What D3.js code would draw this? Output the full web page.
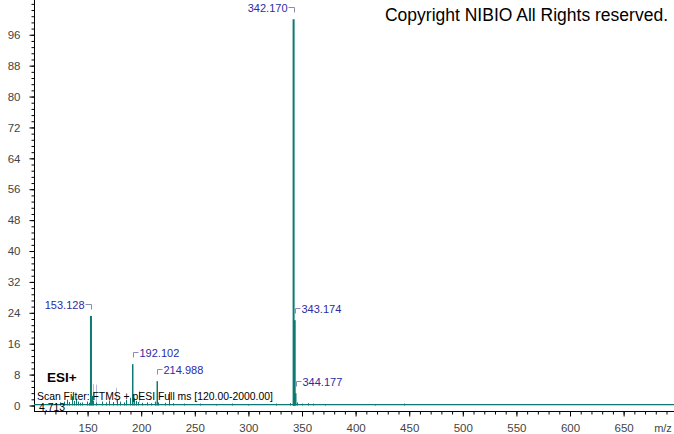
<!DOCTYPE html>
<html>
<head>
<meta charset="utf-8">
<script src="https://cdn.jsdelivr.net/npm/d3@7"></script>
<style>
  html, body { margin: 0; padding: 0; background: #fff; }
  svg { display: block; }
</style>
</head>
<body>
<svg id="chart" width="674" height="434"></svg>
<script>
// ---------- data ----------
const labeledMz = [153.128, 192.102, 214.988, 342.170, 343.174, 344.177];
const labeledIntensity = [23.2, 10.7, 6.3, 100, 22.1, 3.2];
const leftLabeled = [153.128, 342.170];

const minorMz = [124, 128, 131, 133, 135.5, 137, 139, 141, 143, 145, 149, 151, 154.1, 155.1,
  158, 163, 167, 170, 174, 177, 180, 184, 186, 190, 193.1, 195, 197, 201, 205, 209, 213,
  216, 222, 225.5, 230, 240, 255, 270, 285, 300, 326, 339, 341.2, 341.6, 342.6, 345.2, 350,
  356, 360, 371, 418, 445];
const minorIntensity = [0.8, 1.0, 1.5, 0.9, 2.4, 1.2, 1.8, 1.0, 0.7, 0.8, 1.0, 0.7, 2.5, 1.2,
  0.8, 1.0, 0.8, 1.3, 0.9, 1.5, 1.0, 0.8, 1.5, 2.0, 1.8, 1.2, 0.9, 0.7, 0.8, 0.6, 1.0,
  0.8, 0.7, 3.5, 0.6, 0.5, 0.5, 0.4, 0.5, 0.4, 0.5, 0.6, 1.5, 3.0, 4.0, 0.8, 0.5,
  0.6, 0.5, 0.4, 0.4, 0.5];

// faint markers of unlabeled peaks
const ghostMz = [155.4, 157.8, 176.5, 198];
const ghostIntensity = [5.5, 5.4, 4.6, 3.8];

const yTicks = d3.range(0, 97, 8);
const xTicks = d3.range(150, 651, 50);

const copyright = "Copyright NIBIO All Rights reserved.";
const modeText = "ESI+";
const filterText = "Scan Filter: FTMS + pESI Full ms [120.00-2000.00]";
const nlText = "4.713";
const xUnit = "m/z";

// ---------- layout ----------
const svg = d3.select("#chart");
const peakColor = "#0a7a72";
const labelColor = "#2b2ba6";
const bracketColor = "#8a8ab8";
const axisColor = "#000";
const tickTextColor = "#444";

const x = d3.scaleLinear().domain([100, 697]).range([34, 674]);
const y = d3.scaleLinear().domain([0, 105]).range([405.5, 0]);
const axisY = 411;

// y axis
const yAxis = svg.append("g").attr("transform", "translate(34.5,0)");
yAxis.append("g").call(d3.axisLeft(y).tickValues(d3.range(0, 105, 1.6)).tickSize(3).tickFormat(""))
  .call(g => g.select(".domain").remove());
yAxis.append("g").call(d3.axisLeft(y).tickValues(yTicks).tickSize(5).tickPadding(9))
  .call(g => g.select(".domain").remove())
  .call(g => g.selectAll("text").attr("font-family", "Liberation Sans, Arial, sans-serif")
     .attr("font-size", 11.5).attr("fill", tickTextColor));
yAxis.append("line").attr("x1", 0).attr("x2", 0).attr("y1", 0).attr("y2", axisY).attr("stroke", axisColor);
yAxis.selectAll(".tick line").attr("stroke", axisColor);

// x axis
const xAxis = svg.append("g").attr("transform", `translate(0,${axisY + 0.5})`);
xAxis.append("g").call(d3.axisBottom(x).tickValues(d3.range(110, 697, 10)).tickSize(3).tickFormat(""))
  .call(g => g.select(".domain").remove());
xAxis.append("g").call(d3.axisBottom(x).tickValues(xTicks).tickSize(5).tickPadding(7))
  .call(g => g.select(".domain").remove())
  .call(g => g.selectAll("text").attr("font-family", "Liberation Sans, Arial, sans-serif")
     .attr("font-size", 11.5).attr("fill", tickTextColor));
xAxis.append("line").attr("x1", 34).attr("x2", 674).attr("y1", 0).attr("y2", 0).attr("stroke", axisColor);
xAxis.selectAll(".tick line").attr("stroke", axisColor);
svg.append("text").attr("x", 663).attr("y", 432).attr("text-anchor", "middle")
  .attr("font-family", "Liberation Sans, Arial, sans-serif").attr("font-size", 11)
  .attr("fill", tickTextColor).text(xUnit);

// baseline
svg.append("line").attr("x1", x(100)).attr("x2", 674).attr("y1", y(0.25)).attr("y2", y(0.25))
  .attr("stroke", peakColor).attr("stroke-width", 1.2);

// ghost markers
svg.append("g").selectAll("line").data(ghostMz).join("line")
  .attr("x1", d => Math.round(x(d)) + 0.5).attr("x2", d => Math.round(x(d)) + 0.5)
  .attr("y1", y(0.8)).attr("y2", (d, i) => y(ghostIntensity[i]))
  .attr("stroke", "#b8b8da").attr("stroke-width", 1);

// minor peaks
svg.append("g").selectAll("line").data(minorMz).join("line")
  .attr("x1", d => Math.round(x(d)) + 0.5).attr("x2", d => Math.round(x(d)) + 0.5)
  .attr("y1", y(0)).attr("y2", (d, i) => y(minorIntensity[i]))
  .attr("stroke", peakColor).attr("stroke-width", 1);

// labeled peaks
svg.append("g").selectAll("line").data(labeledMz).join("line")
  .attr("x1", d => x(d)).attr("x2", d => x(d))
  .attr("y1", y(0)).attr("y2", (d, i) => y(labeledIntensity[i]))
  .attr("stroke", peakColor).attr("stroke-width", (d, i) => labeledIntensity[i] > 15 ? 2 : 1.5);

// labels with brackets
const lab = svg.append("g");
labeledMz.forEach((mz, i) => {
  const px = Math.round(x(mz)) + 0.5;
  const top = y(labeledIntensity[i]);
  const ly = Math.max(7.5, Math.round(top - 12) + 0.5);
  const left = leftLabeled.includes(mz);
  const path = left
    ? `M${px - 6},${ly}H${px}V${ly + 5}`
    : `M${px},${ly + 5}V${ly}H${px + 5}`;
  lab.append("path").attr("d", path).attr("fill", "none").attr("stroke", bracketColor).attr("stroke-width", 1);
  lab.append("text")
    .attr("x", left ? px - 7 : px + 6).attr("y", ly + 4)
    .attr("text-anchor", left ? "end" : "start")
    .attr("font-family", "Liberation Sans, Arial, sans-serif").attr("font-size", 11)
    .attr("fill", labelColor).text(mz.toFixed(3));
});

// annotation texts
svg.append("text").attr("x", 668).attr("y", 21).attr("text-anchor", "end")
  .attr("font-family", "Liberation Sans, Arial, sans-serif").attr("font-size", 17.5)
  .attr("fill", "#000").text(copyright);
svg.append("text").attr("x", 47).attr("y", 382)
  .attr("font-family", "Liberation Sans, Arial, sans-serif").attr("font-size", 13.5)
  .attr("font-weight", "bold").attr("fill", "#000").text(modeText);
svg.append("text").attr("x", 37).attr("y", 399.5)
  .attr("font-family", "Liberation Sans, Arial, sans-serif").attr("font-size", 10.4)
  .attr("fill", "#000").text(filterText);
svg.append("text").attr("x", 39).attr("y", 410.5)
  .attr("font-family", "Liberation Sans, Arial, sans-serif").attr("font-size", 10.4)
  .attr("fill", "#000").text(nlText);
</script>
</body>
</html>
